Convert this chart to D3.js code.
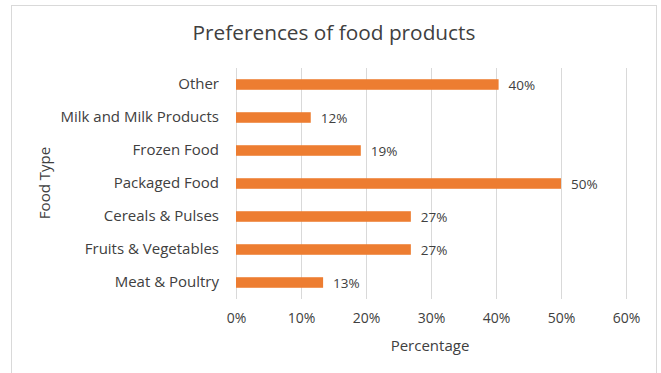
<!DOCTYPE html>
<html><head><meta charset="utf-8">
<script src="https://cdn.jsdelivr.net/npm/d3@7"></script>
<style>body{margin:0;background:#fff}svg{display:block}text{font-family:"Open Sans",sans-serif;fill:#404040}</style>
</head><body>
<script>
const categories = ["Other","Milk and Milk Products","Frozen Food","Packaged Food","Cereals & Pulses","Fruits & Vegetables","Meat & Poultry"];
const values = [40.4, 11.5, 19.2, 50.0, 26.9, 26.9, 13.4];
const xTicks = [0,10,20,30,40,50,60];
const title = "Preferences of food products";
const xTitle = "Percentage";
const yTitle = "Food Type";

const W=661,H=373;
const svg=d3.select("body").append("svg").attr("width",W).attr("height",H);
svg.append("rect").attr("x",11.5).attr("y",5.5).attr("width",645).attr("height",380)
  .attr("fill","#fff").attr("stroke","#d9d9d9");

const x=d3.scaleLinear().domain([0,60]).range([236,626]);
const y=d3.scaleBand().domain(categories).range([68,299]).paddingInner(0.68).paddingOuter(0.34);

const gx=svg.append("g").attr("transform","translate(0,299)")
  .call(d3.axisBottom(x).tickValues(xTicks).tickFormat(d=>d+"%").tickSize(-231).tickPadding(14));
gx.select(".domain").remove();
gx.selectAll(".tick line").attr("stroke","#d9d9d9");
gx.selectAll(".tick text").attr("font-size",14).style("fill","#404040");

const gy=svg.append("g").attr("transform","translate(236,0)")
  .call(d3.axisLeft(y).tickSize(0).tickPadding(17));
gy.select(".domain").remove();
gy.selectAll(".tick text").attr("font-size",15).style("fill","#404040");

svg.selectAll("rect.bar").data(values).join("rect").attr("class","bar")
  .attr("x",x(0)).attr("y",(d,i)=>y(categories[i]))
  .attr("width",d=>x(d)-x(0)).attr("height",y.bandwidth()).attr("fill","#ED7D31");

svg.selectAll("text.lbl").data(values).join("text").attr("class","lbl")
  .attr("x",d=>x(d)+10).attr("y",(d,i)=>y(categories[i])+y.bandwidth()/2+1)
  .attr("dy","0.35em").attr("font-size",13.5).text(d=>Math.round(d)+"%");

svg.append("text").attr("x",334).attr("y",40).attr("text-anchor","middle")
  .attr("font-size",20.8).text(title);
svg.append("text").attr("x",430).attr("y",351).attr("text-anchor","middle")
  .attr("font-size",15).text(xTitle);
svg.append("text").attr("transform","translate(50,183) rotate(-90)").attr("text-anchor","middle")
  .attr("font-size",15).text(yTitle);
</script>
</body></html>
